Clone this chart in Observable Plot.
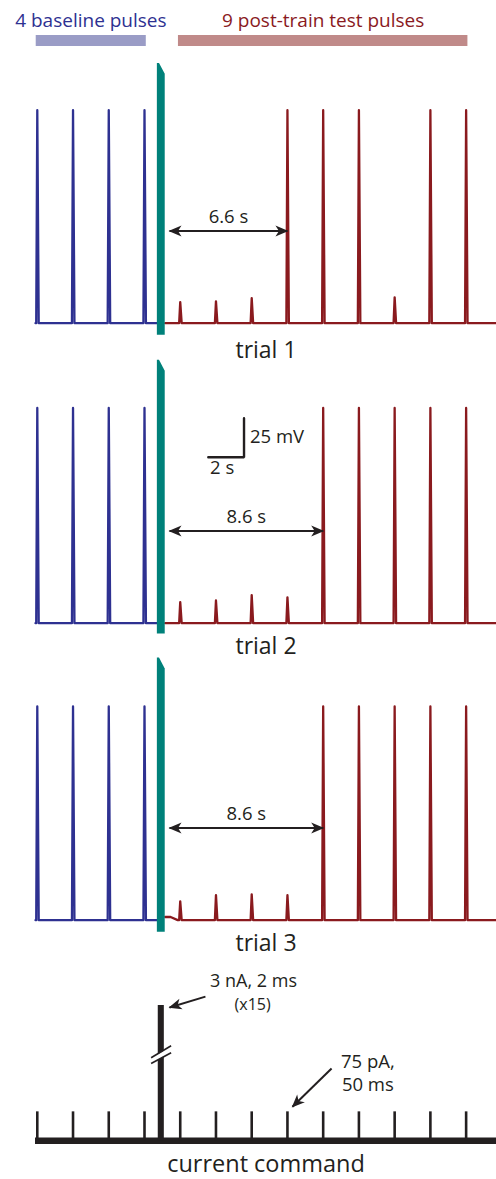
<!DOCTYPE html>
<html>
<head>
<meta charset="utf-8">
<script src="https://cdn.jsdelivr.net/npm/d3@7"></script>
<script src="https://cdn.jsdelivr.net/npm/@observablehq/plot@0.6"></script>
<style>
  html, body { margin: 0; padding: 0; background: #fff; }
  #fig { position: relative; width: 496px; height: 1179px; overflow: hidden; }
  #fig > div { position: absolute; left: 0; }
  #fig svg { display: block; background: none; overflow: visible; }
</style>
</head>
<body>
<div id="fig"></div>
<script>
// ---------- data ----------
// test-pulse times (s) on the common time axis
const baselineTimes = [0, 2, 4, 6];
const testTimes = [8, 10, 12, 14, 16, 18, 20, 22, 24];
const trialNames = ["trial 1", "trial 2", "trial 3"];

// response peaks, mV above resting potential
const baselinePeaks1 = [136.5, 136.5, 136.5, 136.5];
const baselinePeaks2 = [138, 138, 138, 138];
const baselinePeaks3 = [137, 137, 137, 137];
const testPeaks1 = [13.5, 14, 16, 136.5, 136.5, 136.5, 16.5, 136.5, 136.5];
const testPeaks2 = [13.5, 14.5, 18, 16.5, 138, 138, 138, 138, 138];
const testPeaks3 = [12, 16, 16.5, 16, 137, 137, 137, 137, 137];

// high-frequency train (15 x 3 nA, 2 ms)
const trainStart = 6.72;
const trainEnd = 7.16;
const trainPeakFirst = [166.5, 168.5, 168];
const trainPeakLast = [159.5, 161.5, 161];
const trainTrough = [-7.7, -7, -7.7];
const postTrainLift = [0, 0, 2];

// recovery of full spikes after the train
const firstFullSpike = [14, 16, 16];
const recoveryLatency = [6.6, 8.6, 8.6];

// scale bar (drawn in trial 2)
const scaleBarTime = 2;   // s
const scaleBarVolt = 25;  // mV

// current command
const testPulseAmp = 75;    // pA
const testPulseDur = 50;    // ms
const trainAmp = 3000;      // pA
const trainPulseDur = 2;    // ms
const trainCount = 15;

// ---------- styling ----------
const BLUE = "#2e3191", RED = "#8a1a1e", TEAL = "#00817a", INK = "#231f20";
const BLUE_BAR = "#9a9cc6", RED_BAR = "#c08a89";
const FONT = "Open Sans";
const W = 496;
const xDomain = [-0.1, 25.7];
const trialTops = [56, 356, 653];

const fig = document.getElementById("fig");
function place(svg, top) {
  const d = document.createElement("div");
  d.style.top = top + "px";
  d.appendChild(svg);
  fig.appendChild(d);
}

// filled arrowhead marker
function arrowHead(color) {
  const m = d3.create("svg:marker")
    .attr("viewBox", "-14 -7 16 14")
    .attr("markerWidth", 16).attr("markerHeight", 14)
    .attr("markerUnits", "userSpaceOnUse")
    .attr("orient", "auto-start-reverse")
    .attr("overflow", "visible")
    .attr("fill", color).attr("stroke", "none");
  m.append("path").attr("d", "M1,0L-12,-5.5L-8.5,0L-12,5.5Z");
  return m.node();
}

function trace(times, peaks, t0, t1, lift) {
  const pts = [{t: t0, v: lift}];
  if (lift) pts.push({t: t0 + 0.3, v: lift}, {t: t0 + 0.7, v: 0});
  times.forEach((t, i) => {
    pts.push({t: t - 0.06, v: 0}, {t, v: peaks[i]}, {t: t + 0.08, v: 0});
  });
  pts.push({t: t1, v: 0});
  return pts;
}

const common = {
  width: W, marginLeft: 35, marginRight: 0,
  x: {domain: xDomain, axis: null},
  style: {background: "none", overflow: "visible", fontFamily: FONT}
};

// ---------- header: pulse groups ----------
place(Plot.plot({
  ...common, height: 62, marginTop: 35, marginBottom: 16,
  y: {domain: [0, 1], axis: null},
  marks: [
    Plot.rect([{a: baselineTimes[0] - 0.06, b: baselineTimes[3] + 0.1}], {x1: "a", x2: "b", y1: () => 0, y2: () => 1, fill: BLUE_BAR}),
    Plot.rect([{a: testTimes[0] - 0.1, b: testTimes[8] + 0.1}], {x1: "a", x2: "b", y1: () => 0, y2: () => 1, fill: RED_BAR}),
    Plot.text([`${baselineTimes.length} baseline pulses`], {x: () => d3.mean(baselineTimes), frameAnchor: "top", lineAnchor: "bottom", dy: -9, fill: BLUE, fontSize: 19, fontFamily: FONT}),
    Plot.text([`${testTimes.length} post-train test pulses`], {x: () => d3.mean(testTimes), frameAnchor: "top", lineAnchor: "bottom", dy: -9, fill: RED, fontSize: 19, fontFamily: FONT})
  ]
}), 0);

// ---------- voltage traces ----------
const basePeaks = [baselinePeaks1, baselinePeaks2, baselinePeaks3];
const postPeaks = [testPeaks1, testPeaks2, testPeaks3];
const labelDy = [12, 8, 8];

trialNames.forEach((name, i) => {
  const blue = trace(baselineTimes, basePeaks[i], xDomain[0], trainStart, 0);
  const red = trace(testTimes, postPeaks[i], trainEnd, xDomain[1], postTrainLift[i]);
  const train = [
    {t: trainStart, top: trainPeakFirst[i], low: trainTrough[i]},
    {t: trainStart + 0.12, top: trainPeakFirst[i], low: trainTrough[i]},
    {t: trainEnd, top: trainPeakLast[i], low: trainTrough[i]}
  ];
  const arrowTo = firstFullSpike[i];
  const arrowFrom = arrowTo - recoveryLatency[i];
  const arrowLevel = 59;
  const marks = [
    Plot.line(blue, {x: "t", y: "v", stroke: BLUE, strokeWidth: 2.3, strokeLinejoin: "round"}),
    Plot.line(red, {x: "t", y: "v", stroke: RED, strokeWidth: 2.3, strokeLinejoin: "round"}),
    Plot.areaY(train, {x: "t", y1: "low", y2: "top", fill: TEAL}),
    Plot.link([{a: arrowFrom, b: arrowTo}], {x1: "a", x2: "b", y1: () => arrowLevel, y2: () => arrowLevel, stroke: INK, strokeWidth: 2, markerStart: arrowHead, markerEnd: arrowHead}),
    Plot.text([`${recoveryLatency[i]} s`], {x: () => (arrowFrom + arrowTo) / 2, y: () => arrowLevel, lineAnchor: "bottom", dy: -8, fill: INK, fontSize: 18.5, fontFamily: FONT}),
    Plot.text([name], {frameAnchor: "bottom", lineAnchor: "middle", dy: labelDy[i], fill: INK, fontSize: 23, fontFamily: FONT})
  ];
  if (i === 1) {
    // scale bar: 2 s x 25 mV
    const cx = 11.57, cy = 106.4;
    marks.push(
      Plot.line([{t: cx - scaleBarTime, v: cy}, {t: cx, v: cy}, {t: cx, v: cy + scaleBarVolt}], {x: "t", y: "v", stroke: INK, strokeWidth: 2.4, strokeLinejoin: "miter"}),
      Plot.text([`${scaleBarVolt} mV`], {x: () => cx, y: () => cy + scaleBarVolt / 2, textAnchor: "start", lineAnchor: "middle", dx: 6, dy: -1, fill: INK, fontSize: 18.5, fontFamily: FONT}),
      Plot.text([`${scaleBarTime} s`], {x: () => cx - scaleBarTime / 2, y: () => cy, lineAnchor: "top", dx: -4, dy: 4, fill: INK, fontSize: 18.5, fontFamily: FONT})
    );
  }
  place(Plot.plot({
    ...common, height: 306, marginTop: 6, marginBottom: 24,
    y: {domain: [-9.85, 167.1], axis: null},
    marks
  }), trialTops[i]);
});

// ---------- current command ----------
const cmdPulses = baselineTimes.concat(testTimes);
const breakLines = [
  {t1: 6.37, v1: 215, t2: 7.49, v2: 246},
  {t1: 6.37, v1: 200, t2: 7.49, v2: 228}
];
place(Plot.plot({
  ...common, height: 204, marginTop: 30, marginBottom: 34,
  y: {domain: [-12, 350], axis: null},
  marks: [
    Plot.ruleY([0], {stroke: INK, strokeWidth: 6.5}),
    Plot.ruleX(cmdPulses, {x: d => d, y1: () => 0, y2: () => testPulseAmp, stroke: INK, strokeWidth: 2.6}),
    Plot.rect([{a: trainStart, b: trainEnd}], {x1: "a", x2: "b", y1: () => 0, y2: () => trainAmp, fill: INK, insetLeft: 0.9, insetRight: 0.9, clip: true}),
    // axis break on the train bar
    Plot.link([{t1: 6.62, v1: 213, t2: 7.25, v2: 231}], {x1: "t1", y1: "v1", x2: "t2", y2: "v2", stroke: "#fff", strokeWidth: 4.5}),
    Plot.link(breakLines, {x1: "t1", y1: "v1", x2: "t2", y2: "v2", stroke: INK, strokeWidth: 1.6}),
    // annotations
    Plot.text([`${trainAmp / 1000} nA, ${trainPulseDur} ms`], {x: () => 12.1, y: () => 412, lineAnchor: "middle", fill: INK, fontSize: 18, fontFamily: FONT}),
    Plot.text([`(x${trainCount})`], {x: () => 12.05, y: () => 351, lineAnchor: "middle", fill: INK, fontSize: 16, fontFamily: FONT}),
    Plot.link([{a: 9.41, b: 7.4, c: 373, d: 345}], {x1: "a", x2: "b", y1: "c", y2: "d", stroke: INK, strokeWidth: 2, markerEnd: arrowHead}),
    Plot.text([`${testPulseAmp} pA,\n${testPulseDur} ms`], {x: () => 18.5, y: () => 177, lineAnchor: "middle", lineHeight: 1.22, fill: INK, fontSize: 18.5, fontFamily: FONT}),
    Plot.link([{a: 16.47, b: 14.28, c: 187, d: 88}], {x1: "a", x2: "b", y1: "c", y2: "d", stroke: INK, strokeWidth: 2, markerEnd: arrowHead}),
    Plot.text(["current command"], {frameAnchor: "bottom", lineAnchor: "middle", dy: 19, fill: INK, fontSize: 23.5, fontFamily: FONT})
  ]
}), 975);
</script>
</body>
</html>
